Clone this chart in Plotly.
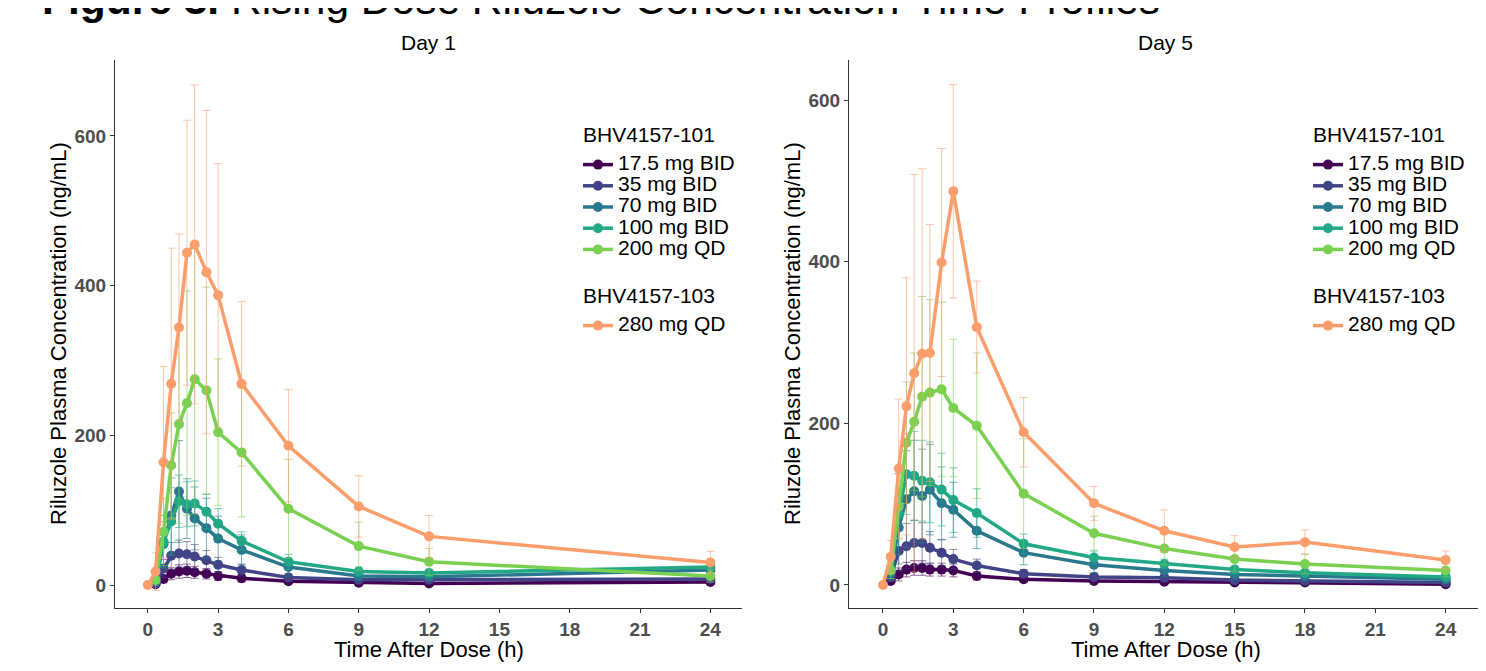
import plotly.graph_objects as go

# ---------------- data ----------------
groups = ["17.5 mg BID", "35 mg BID", "70 mg BID", "100 mg BID", "200 mg QD", "280 mg QD"]
studies = ["BHV4157-101", "BHV4157-101", "BHV4157-101", "BHV4157-101", "BHV4157-101", "BHV4157-103"]
colors = ["#440154", "#414487", "#2A788E", "#22A884", "#7AD151", "#FB9E6C"]
err_colors = ["rgba(68,1,84,0.6)", "rgba(65,68,135,0.6)", "rgba(42,120,142,0.6)",
              "rgba(34,168,132,0.6)", "rgba(122,209,81,0.6)", "rgba(251,158,108,0.6)"]

# Day 1
t_d1 = [0.33, 0.67, 1, 1.33, 1.67, 2, 2.5, 3, 4, 6, 9, 12, 24]
t_d1_280 = [0, 0.33, 0.67, 1, 1.33, 1.67, 2, 2.5, 3, 4, 6, 9, 12, 24]
d1_175 = [1, 8, 15, 18, 19, 17, 15, 12, 9, 5, 3, 2, 4]
d1_35 = [2, 22, 39, 42, 41, 38, 33, 27, 20, 10, 7, 7, 8]
d1_70 = [5, 55, 93, 125, 102, 89, 76, 62, 47, 24, 12, 11, 20]
d1_100 = [6, 58, 85, 112, 108, 109, 98, 82, 59, 31, 18, 16, 24]
d1_200 = [7, 71, 160, 215, 243, 275, 260, 204, 177, 102, 52, 31, 12]
d1_280 = [0, 18, 164, 269, 344, 444, 455, 418, 387, 269, 186, 105, 65, 30]
sd1_175 = [1, 5, 8, 9, 9, 8, 7, 6, 5, 3, 2, 1, 2]
sd1_35 = [2, 12, 18, 18, 17, 16, 13, 10, 8, 5, 3, 3, 4]
sd1_70 = [4, 30, 50, 68, 40, 42, 40, 30, 20, 12, 6, 5, 8]
sd1_100 = [4, 35, 45, 35, 30, 30, 23, 20, 12, 10, 6, 5, 8]
sd1_200 = [5, 45, 70, 133, 150, 180, 138, 98, 86, 66, 32, 18, 8]
sd1_280 = [0, 25, 128, 181, 125, 177, 213, 216, 176, 110, 75, 41, 28, 15]

# Day 5
t_d5 = [0.33, 0.67, 1, 1.33, 1.67, 2, 2.5, 3, 4, 6, 9, 12, 15, 18, 24]
t_d5_280 = [0, 0.33, 0.67, 1, 1.33, 1.67, 2, 2.5, 3, 4, 6, 9, 12, 15, 18, 24]
d5_175 = [5, 13, 19, 21, 21, 19, 19, 18, 11, 7, 5, 4, 3, 3, 1]
d5_35 = [10, 42, 48, 52, 52, 46, 40, 32, 24, 14, 10, 9, 6, 5, 3]
d5_70 = [15, 71, 106, 116, 110, 118, 101, 93, 67, 40, 25, 18, 13, 11, 7]
d5_100 = [20, 88, 137, 135, 129, 127, 118, 105, 89, 51, 34, 26, 19, 15, 10]
d5_200 = [18, 97, 176, 202, 233, 238, 242, 219, 197, 113, 64, 45, 32, 26, 18]
d5_280 = [0, 35, 144, 221, 262, 286, 287, 399, 487, 319, 189, 101, 67, 47, 53, 31]
sd5_175 = [3, 8, 9, 9, 9, 8, 8, 8, 5, 3, 2, 2, 1, 1, 1]
sd5_35 = [6, 25, 28, 28, 25, 20, 16, 12, 8, 5, 4, 4, 3, 2, 2]
sd5_70 = [10, 45, 60, 63, 58, 56, 45, 34, 22, 15, 10, 8, 6, 5, 4]
sd5_100 = [12, 50, 50, 55, 50, 50, 45, 40, 30, 12, 8, 6, 4, 3, 3]
sd5_200 = [10, 40, 75, 85, 124, 115, 108, 85, 90, 68, 21, 20, 15, 12, 8]
sd5_280 = [0, 20, 86, 159, 246, 229, 159, 141, 132, 57, 43, 21, 26, 14, 15, 11]

x_ticks = [0, 3, 6, 9, 12, 15, 18, 21, 24]
y_ticks = [0, 200, 400, 600]

# ---------------- layout geometry ----------------
# page body has an 8px margin: work in screenshot pixels, convert to figure pixels
OFF = 8
W, H = 1486 - OFF, 671 - OFF
L1, R1 = 115, 742
L2, R2 = 849, 1478
TOP, BOT = 60, 608
FONT = "Liberation Sans, Arial, sans-serif"


def py(s):
    f = s - OFF
    return ((BOT - OFF) - f) / (BOT - TOP)


def pxx(s):
    return (s - OFF) / W


fig = go.Figure()

day1 = [(t_d1, d1_175, sd1_175), (t_d1, d1_35, sd1_35), (t_d1, d1_70, sd1_70),
        (t_d1, d1_100, sd1_100), (t_d1, d1_200, sd1_200), (t_d1_280, d1_280, sd1_280)]
day5 = [(t_d5, d5_175, sd5_175), (t_d5, d5_35, sd5_35), (t_d5, d5_70, sd5_70),
        (t_d5, d5_100, sd5_100), (t_d5, d5_200, sd5_200), (t_d5_280, d5_280, sd5_280)]

for panel, (series, xa, ya, leg) in enumerate([(day1, "x", "y", "legend"), (day5, "x2", "y2", "legend2")]):
    seen = set()
    for i, (tt, vals, sds) in enumerate(series):
        grp = studies[i] + ("" if panel == 0 else "_d5")
        kw = {}
        if grp not in seen:
            kw["legendgrouptitle"] = dict(
                text='<span style="font-size:21px">' + studies[i] + "</span>",
                font=dict(size=40, family=FONT, color="#000"))
            seen.add(grp)
        fig.add_trace(go.Scatter(
            x=tt, y=vals, mode="lines+markers",
            name='<span style="font-size:21px">' + groups[i] + "</span>",
            line=dict(color=colors[i], width=3.5),
            marker=dict(color=colors[i], size=10),
            error_y=dict(type="data", array=sds, visible=True, color=err_colors[i], thickness=1, width=4),
            xaxis=xa, yaxis=ya, legend=leg, legendgroup=grp, **kw))

axis_common = dict(showline=True, linecolor="#333333", linewidth=1, ticks="outside", ticklen=4,
                   tickcolor="#333333", showgrid=False, zeroline=False,
                   tickfont=dict(size=19, family=FONT, color="#4D4D4D", weight="bold"))

legend_common = dict(xanchor="left", yanchor="top", bgcolor="rgba(0,0,0,0)",
                     font=dict(size=14, family=FONT, color="#000"), tracegroupgap=0,
                     itemwidth=30, itemclick=False)

fig.update_layout(
    width=W, height=H, plot_bgcolor="white", paper_bgcolor="white",
    margin=dict(l=0, r=0, t=TOP - OFF, b=H - (BOT - OFF)),
    font=dict(family=FONT, color="#000"),
    xaxis=dict(domain=[pxx(L1), min(1.0, pxx(R1))], range=[-1.4, 25.35], tickvals=x_ticks, anchor="y", **axis_common),
    yaxis=dict(domain=[0, 1], range=[-30.7, 701.4], tickvals=y_ticks, anchor="x", **axis_common),
    xaxis2=dict(domain=[pxx(L2), min(1.0, pxx(R2))], range=[-1.45, 25.38], tickvals=x_ticks, anchor="y2", **axis_common),
    yaxis2=dict(domain=[0, 1], range=[-28.5, 649.5], tickvals=y_ticks, anchor="x2", **axis_common),
    legend=dict(x=pxx(578), y=py(94), **legend_common),
    legend2=dict(x=pxx(1308), y=py(94), **legend_common),
    showlegend=True,
)

ann = []
ann.append(dict(text="<b>Figure 3.</b> Rising Dose Riluzole Concentration-Time Profiles",
                x=pxx(40), y=py(25), xref="paper", yref="paper", xanchor="left", yanchor="bottom",
                showarrow=False, font=dict(size=42.5, family=FONT, color="#000")))
for cx, label in [((L1 + R1) / 2, "Day 1"), ((L2 + R2) / 2 + 2, "Day 5")]:
    ann.append(dict(text=label, x=pxx(cx), y=py(43), xref="paper", yref="paper",
                    xanchor="center", yanchor="middle", showarrow=False,
                    font=dict(size=21, family=FONT, color="#000")))
    ann.append(dict(text="Time After Dose (h)", x=pxx(cx), y=py(649), xref="paper", yref="paper",
                    xanchor="center", yanchor="middle", showarrow=False,
                    font=dict(size=22, family=FONT, color="#000")))
for cx in [58, 792]:
    ann.append(dict(text="Riluzole Plasma Concentration (ng/mL)", x=pxx(cx), y=py((TOP + BOT) / 2),
                    xref="paper", yref="paper", xanchor="center", yanchor="middle", textangle=-90,
                    showarrow=False, font=dict(size=22, family=FONT, color="#000")))
fig.update_layout(annotations=ann)

fig.write_html("out.html")
